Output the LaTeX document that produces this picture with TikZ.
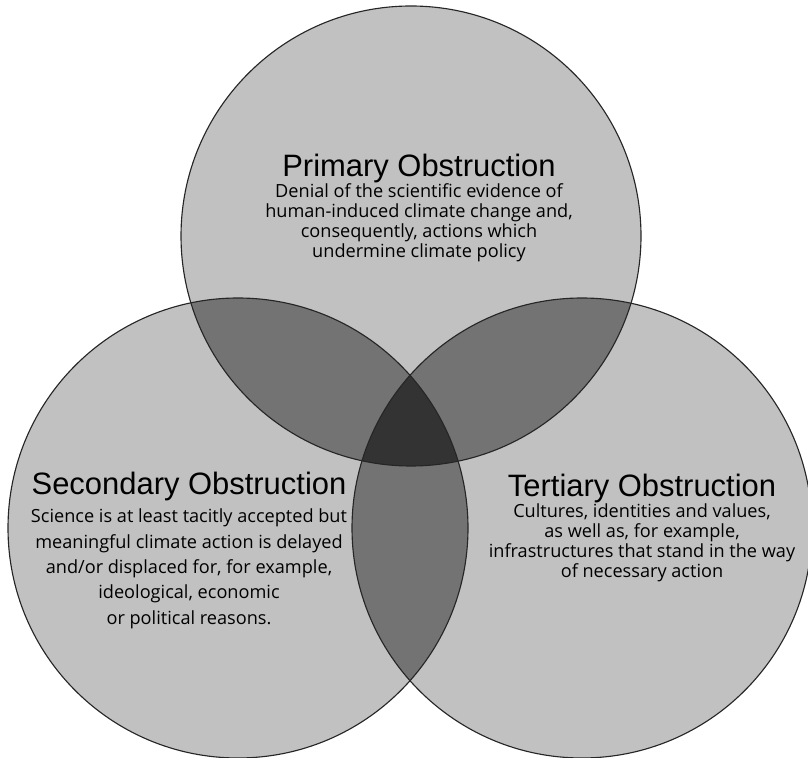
\documentclass[tikz,border=0pt]{standalone}
\usepackage{fontspec}
\newfontfamily\titlefont{Liberation Sans}
\newfontfamily\notefont{Open Sans}
\usetikzlibrary{positioning}

\definecolor{oneset}{gray}{0.755}
\definecolor{twoset}{gray}{0.45}
\definecolor{threeset}{gray}{0.2}
\definecolor{rim}{gray}{0.15}

\begin{document}
\begin{tikzpicture}[x=0.025cm, y=0.025cm,
        heading/.style={font=\titlefont\fontsize{22}{26}\selectfont, inner sep=0pt, anchor=base},
        note/.style={font=\notefont\fontsize{12.9}{14.2}\selectfont, align=center, inner sep=0pt},
        wide/.style={font=\notefont\fontsize{12.9}{18.1}\selectfont}]
        \useasboundingbox (0,0) rectangle (808,757);
        \coordinate (primary) at (411,521);
        \coordinate (secondary) at (238,229);
        \coordinate (tertiary) at (582,229);
        % areas
        \fill[oneset] (primary) circle [radius=230] (secondary) circle [radius=230] (tertiary) circle [radius=230];
        \begin{scope}
            \clip (primary) circle [radius=230];
            \fill[twoset] (secondary) circle [radius=230] (tertiary) circle [radius=230];
        \end{scope}
        \begin{scope}
            \clip (secondary) circle [radius=230];
            \fill[twoset] (tertiary) circle [radius=230];
        \end{scope}
        \begin{scope}
            \clip (primary) circle [radius=230];
            \clip (secondary) circle [radius=230];
            \fill[threeset] (tertiary) circle [radius=230];
        \end{scope}
        \foreach \c in {primary,secondary,tertiary}
            \draw[rim, line width=0.8pt] (\c) circle [radius=230];
        % texts
        \node[heading] (ptitle) at (419,580) {Primary Obstruction};
        \node[note] (pnote) [below=4.6pt of ptitle.base] {Denial of the scientific evidence of\\human-induced climate change and,\\consequently, actions which\\undermine climate policy};
        \node[heading] (stitle) at (189,262) {Secondary Obstruction};
        \node[note, wide] (snote) [below=9.6pt of stitle.base] {Science is at least tacitly accepted but\\meaningful climate action is delayed\\and/or displaced for, for example,\\ideological, economic\\or political reasons.};
        \node[heading] (ttitle) at (642,261) {Tertiary Obstruction};
        \node[note] (tnote) [below=5.3pt of ttitle.base] {Cultures, identities and values,\\as well as, for example,\\infrastructures that stand in the way\\of necessary action};
    \end{tikzpicture}
\end{document}
